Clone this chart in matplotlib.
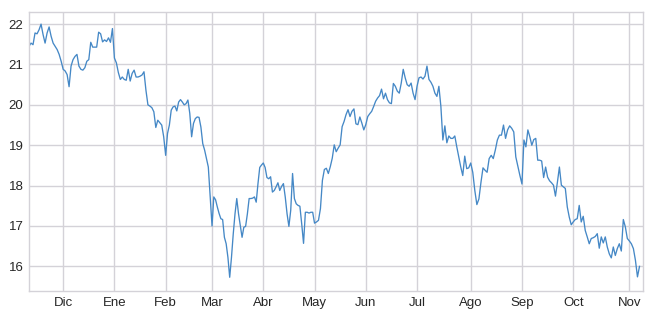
import numpy as np
import matplotlib
matplotlib.use('Agg')
import matplotlib.pyplot as plt

# Month tick labels (Spanish)
month_labels = ['Dic', 'Ene', 'Feb', 'Mar', 'Abr', 'May', 'Jun', 'Jul', 'Ago', 'Sep', 'Oct', 'Nov']
# trading days in each month of the series (first and last month partial)
trading_days = [14, 21, 21, 19, 21, 21, 21, 21, 22, 21, 21, 23, 5]

# observations per month
nov_prev = [21.45, 21.53, 21.49, 21.78, 21.76, 21.86, 22.00, 21.74, 21.53, 21.78, 21.93, 21.70,
            21.53, 21.45, 21.37, 21.25, 21.08]
dic = [20.88, 20.84, 20.75, 20.45, 20.96, 21.12, 21.20, 21.25, 20.96, 20.88, 20.86, 20.92, 21.08,
       21.12, 21.55, 21.43, 21.43, 21.43, 21.80, 21.76, 21.56, 21.61, 21.57, 21.66, 21.55, 21.89]
ene = [21.16, 21.04, 20.80, 20.63, 20.69, 20.63, 20.61, 20.88, 20.59, 20.78, 20.86, 20.69, 20.69,
       20.71, 20.74, 20.82, 20.36, 20.00, 19.97, 19.93, 19.83, 19.44, 19.62, 19.56, 19.50, 19.21]
feb = [18.75, 19.29, 19.50, 19.87, 19.95, 19.97, 19.85, 20.07, 20.13, 20.07, 20.00, 20.03, 20.12,
       19.79, 19.21, 19.54, 19.66, 19.70, 19.69, 19.45, 19.04, 18.88, 18.67, 18.46, 17.72]
mar = [17.00, 17.72, 17.65, 17.47, 17.31, 17.18, 17.16, 16.72, 16.56, 16.22, 15.73, 16.22, 16.80,
       17.30, 17.68, 17.30, 17.01, 16.72, 16.97, 16.99, 17.30, 17.68, 17.68, 17.69, 17.72, 17.59,
       18.05, 18.45, 18.51]
abr = [18.56, 18.45, 18.20, 18.17, 18.22, 17.84, 17.88, 17.97, 18.07, 17.88, 17.98, 18.05, 17.72,
       17.30, 16.99, 17.39, 18.30, 17.68, 17.55, 17.51, 17.49, 17.05, 16.57, 17.34, 17.34, 17.32,
       17.34, 17.34]
may = [17.07, 17.10, 17.14, 17.43, 18.13, 18.40, 18.43, 18.30, 18.47, 18.68, 19.01, 18.84, 18.93,
       19.01, 19.46, 19.59, 19.76, 19.88, 19.71, 19.84, 19.90, 19.53, 19.51, 19.70, 19.55, 19.38]
jun = [19.51, 19.71, 19.78, 19.84, 19.96, 20.09, 20.17, 20.23, 20.39, 20.15, 20.29, 20.13, 20.05,
       20.03, 20.53, 20.46, 20.34, 20.29, 20.54, 20.88, 20.67, 20.50, 20.46, 20.54, 20.29, 20.13]
jul = [20.46, 20.67, 20.69, 20.64, 20.71, 20.96, 20.63, 20.56, 20.46, 20.29, 20.21, 20.46, 19.96,
       19.13, 19.48, 19.06, 19.23, 19.17, 19.17, 19.23, 18.96, 18.71, 18.46, 18.25, 18.73, 18.42,
       18.44]
ago = [18.56, 18.33, 17.88, 17.53, 17.67, 18.08, 18.44, 18.38, 18.33, 18.67, 18.75, 18.67, 18.88,
       19.13, 19.25, 19.25, 19.50, 19.17, 19.38, 19.48, 19.42, 19.33, 18.71, 18.48, 18.25]
sep = [18.04, 19.13, 18.96, 19.38, 19.21, 19.00, 19.14, 19.17, 18.63, 18.63, 18.61, 18.20, 18.46,
       18.21, 18.12, 18.07, 18.01, 17.74, 18.09, 18.46, 18.01, 17.97, 17.93, 17.47, 17.22, 17.03]
octu = [17.10, 17.16, 17.18, 17.51, 17.10, 17.24, 16.89, 16.73, 16.56, 16.69, 16.71, 16.74, 16.81,
        16.45, 16.73, 16.58, 16.73, 16.48, 16.31, 16.21, 16.48, 16.27, 16.44, 16.56, 16.38, 17.16,
        16.98, 16.69]
nov = [16.63, 16.56, 16.44, 16.15, 15.74, 16.00]

segments = [nov_prev, dic, ene, feb, mar, abr, may, jun, jul, ago, sep, octu, nov]

x, y = [], []
start = 0
for days, vals in zip(trading_days, segments):
    n = len(vals)
    x.extend(start + np.arange(n) * days / n)
    y.extend(vals)
    start += days
month_starts = np.cumsum(trading_days)[:-1]

plt.rcParams['font.family'] = ['Liberation Sans', 'DejaVu Sans']

fig = plt.figure(figsize=(6.54, 3.13), dpi=100)
ax = fig.add_axes([29 / 654, 1 - 291 / 313, (643 - 29) / 654, (291 - 12) / 313])
ax.set_facecolor('white')
ax.plot(x, y, color='#4588c6', lw=0.95)

ax.set_xlim(0, sum(trading_days) + 0.6)
ax.set_ylim(15.39, 22.30)
ax.set_xticks(month_starts)
ax.set_xticklabels(month_labels)
ax.set_yticks([16, 17, 18, 19, 20, 21, 22])
ax.grid(True, color='#d4d2d8', lw=1.0)
ax.set_axisbelow(True)
for s in ax.spines.values():
    s.set_color('#d4d2d8')
    s.set_linewidth(1.0)
ax.tick_params(length=0, labelsize=9.5, colors='#262626', pad=4)

fig.savefig('out.png', dpi=100)
